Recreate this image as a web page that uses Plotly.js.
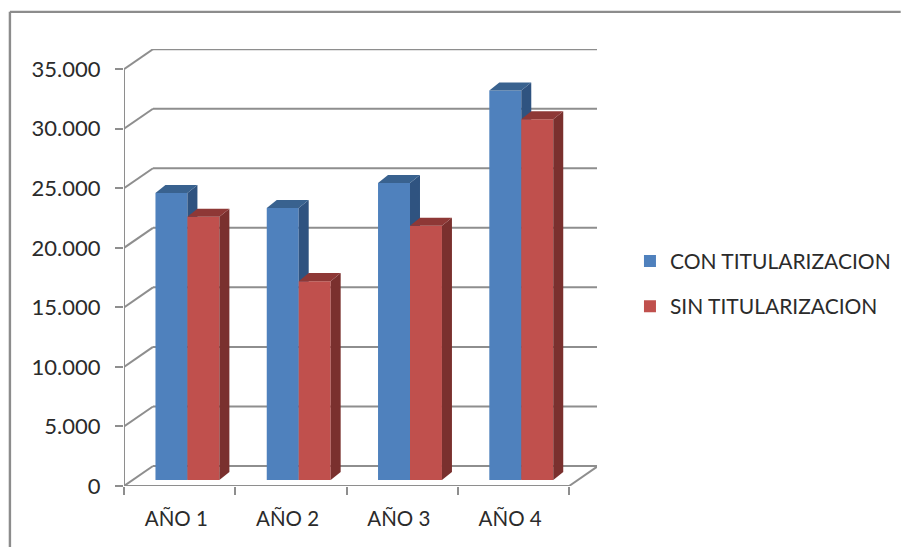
<!DOCTYPE html>
<html>
<head>
<meta charset="utf-8">
<script src="https://cdn.plot.ly/plotly-3.0.1.min.js"></script>
<style>html,body{margin:0;padding:0;background:#fff;overflow:hidden}#chart{width:901px;height:547px}</style>
</head>
<body>
<div id="chart"></div>
<script>
// Two series per year, in thousands-separated units
const years = ['AÑO 1', 'AÑO 2', 'AÑO 3', 'AÑO 4'];
const conTitularizacion = [24100, 22850, 24950, 32700];
const sinTitularizacion = [22100, 16700, 21350, 30300];
const yTicks = [0, 5000, 10000, 15000, 20000, 25000, 30000, 35000];
const yTickText = ['0', '5.000', '10.000', '15.000', '20.000', '25.000', '30.000', '35.000'];

// Pixel sizes of the oblique projection
const plotLeft = 123.5, plotBottom = 486, plotRight = 597, plotTop = 49.3;
const pxPerYear = 111.4, pxPer5000 = 59.5;
const toX = px => px / pxPerYear;
const toY = px => px / pxPer5000 * 5000;

const wallDX = toX(29), wallDY = toY(20);       // back wall relative to front axis
const baseDY = toY(6);                          // bars' front plane relative to front axis
const depthDX = toX(10), depthDY = toY(8);      // bar depth
const barW = toX(32);                           // bar width

const xMax = toX(plotRight - plotLeft);
const yMax = toY(plotBottom - plotTop);

const gridColor = '#8e8e8e', textColor = '#2b2b2b';

// Side and top faces of one bar, expressed in axis units
function faces(x0, value, sideColor, topColor, xa, ya, group) {
  const x1 = x0 + barW, b = baseDY, t = baseDY + value;
  const poly = (xs, ys, color) => ({
    type: 'scatter', mode: 'lines', x: xs, y: ys, fill: 'toself', fillcolor: color,
    line: {width: 0, color: color}, showlegend: false, hoverinfo: 'skip', xaxis: xa, yaxis: ya, legendgroup: group
  });
  return [
    poly([x1, x1 + depthDX, x1 + depthDX, x1, x1], [b, b + depthDY, t + depthDY, t, b], sideColor),
    poly([x0, x0 + depthDX, x1 + depthDX, x1, x0], [t, t + depthDY, t + depthDY, t, t], topColor)
  ];
}

function series(name, values, slot, color, sideColor, topColor, xa, ya) {
  const front = {
    type: 'bar', name: name, legendgroup: name,
    x: years.map((_, i) => i + 0.5),
    y: values, base: baseDY,
    width: barW,
    offset: years.map(() => groupOffset(slot)),
    marker: {color: color, line: {width: 0}},
    xaxis: xa, yaxis: ya
  };
  const sides = values.flatMap((v, i) =>
    faces(i + 0.5 + groupOffset(slot), v, sideColor, topColor, xa, ya, name));
  return [front, ...sides];
}

// Left edge of a bar relative to the centre of its year slot
function groupOffset(slot) {
  return (31.5 - pxPerYear / 2) / pxPerYear + slot * barW;
}

// Walls and floor lines, kept below the bars
const lineStyle = {color: gridColor, width: 2};
const shapes = [];
const seg = (x0, y0, x1, y1) => shapes.push({
  type: 'line', xref: 'x', yref: 'y', x0, y0, x1, y1, layer: 'below', line: lineStyle
});
yTicks.forEach(v => {
  seg(0, v, wallDX, v + wallDY);
  seg(wallDX, v + wallDY, years.length + wallDX, v + wallDY);
});
seg(0, 0, 0, 35000);
seg(0, 0, years.length, 0);
seg(years.length, 0, years.length + wallDX, wallDY);

// Outer frame of the chart area
[[9.3, 12.2, 9.3, 547], [9.3, 12.2, 901, 12.2]].forEach(([a, b, c, d]) => shapes.push({
  type: 'line', xref: 'paper', yref: 'paper',
  x0: (a - plotLeft) / (plotRight - plotLeft), x1: (c - plotLeft) / (plotRight - plotLeft),
  y0: (plotBottom - b) / (plotBottom - plotTop), y1: (plotBottom - d) / (plotBottom - plotTop),
  line: {color: '#8c8c8c', width: 2.4}, layer: 'below'
}));

const traces = [
  ...series('CON TITULARIZACION', conTitularizacion, 0, '#4F81BD', '#2F5380', '#39628F', 'x', 'y'),
  ...series('SIN TITULARIZACION', sinTitularizacion, 1, '#C0504D', '#7A302E', '#8E3836', 'x2', 'y2')
];

const font = {family: 'Lato, "Open Sans", sans-serif', color: textColor};
const layout = {
  width: 901, height: 547,
  margin: {l: plotLeft, r: 901 - plotRight, t: plotTop, b: 547 - plotBottom, pad: 0, autoexpand: false},
  paper_bgcolor: '#fff', plot_bgcolor: 'rgba(0,0,0,0)',
  barmode: 'overlay',
  showlegend: true,
  xaxis: {
    range: [0, xMax], showgrid: false, zeroline: false, showline: false, fixedrange: true,
    tickmode: 'array', tickvals: years.map((_, i) => i + 0.47), ticktext: years, ticks: '',
    ticklabelstandoff: 18,
    tickfont: {...font, size: 20.5},
    minor: {tickmode: 'array', tickvals: [0, 1, 2, 3, 4], ticks: 'outside', ticklen: 8, tickwidth: 2, tickcolor: gridColor, showgrid: false}
  },
  yaxis: {
    range: [0, yMax], showgrid: false, zeroline: false, showline: false, fixedrange: true,
    tickmode: 'array', tickvals: yTicks, ticktext: yTickText,
    ticks: 'outside', ticklen: 8, tickwidth: 2, tickcolor: gridColor,
    ticklabelstandoff: 10,
    tickfont: {...font, size: 22}
  },
  xaxis2: {overlaying: 'x', matches: 'x', visible: false, range: [0, xMax], anchor: 'y2'},
  yaxis2: {overlaying: 'y', matches: 'y', visible: false, range: [0, yMax], anchor: 'x2'},
  legend: {
    x: (630 - plotLeft) / (plotRight - plotLeft), y: (plotBottom - 241) / (plotBottom - plotTop),
    xanchor: 'left', yanchor: 'top', traceorder: 'grouped', tracegroupgap: 15,
    itemwidth: 30, font: {...font, size: 21}, bgcolor: 'rgba(0,0,0,0)', borderwidth: 0
  },
  shapes: shapes
};

Plotly.newPlot('chart', traces, layout, {displayModeBar: false, staticPlot: true});
</script>
</body>
</html>
